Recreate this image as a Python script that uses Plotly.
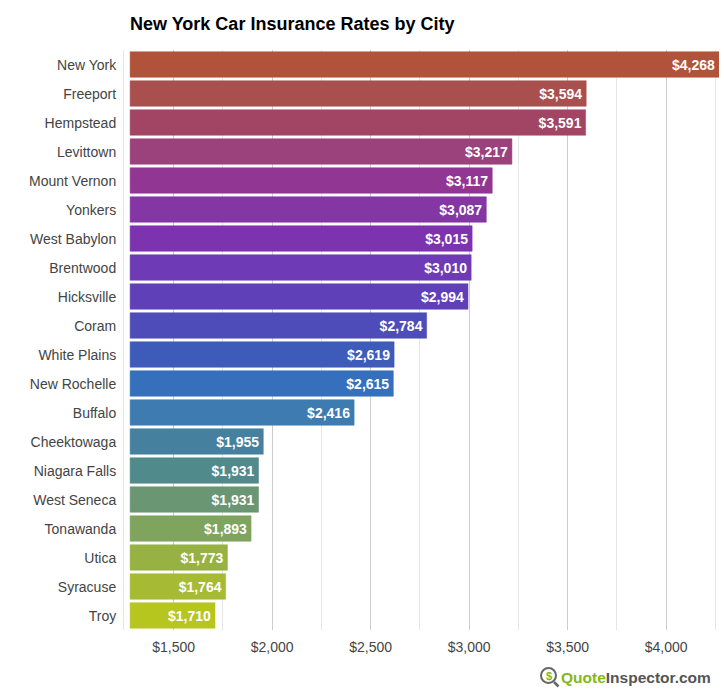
"""New York car insurance rates by city, horizontal bar chart."""
import plotly.graph_objects as go

cities = [
    "New York", "Freeport", "Hempstead", "Levittown", "Mount Vernon",
    "Yonkers", "West Babylon", "Brentwood", "Hicksville", "Coram",
    "White Plains", "New Rochelle", "Buffalo", "Cheektowaga", "Niagara Falls",
    "West Seneca", "Tonawanda", "Utica", "Syracuse", "Troy",
]
rates = [
    4268, 3594, 3591, 3217, 3117, 3087, 3015, 3010, 2994, 2784,
    2619, 2615, 2416, 1955, 1931, 1931, 1893, 1773, 1764, 1710,
]
bar_colors = [
    "#b0533a", "#a94f4e", "#a24565", "#9b417c", "#923693",
    "#8536a5", "#7d32b0", "#6f3ab5", "#6040b8", "#4e4cb8",
    "#3e5bb9", "#3670bc", "#3e7bb0", "#45809f", "#508a8b",
    "#6a9674", "#7ea45d", "#97b242", "#a6ba33", "#b7c61f",
]
tick_values = [1500, 2000, 2500, 3000, 3500, 4000]
tick_labels = ["$1,500", "$2,000", "$2,500", "$3,000", "$3,500", "$4,000"]

BASE_VALUE = 1279
FONT = "Liberation Sans, Arial, sans-serif"
WIDTH = 724
HEIGHT = 700
MARGIN = {"l": 124, "r": 5, "t": 50, "b": 70, "pad": 0}


def _px(x, y):
    """Convert page pixels to paper coordinates."""
    plot_w = WIDTH - MARGIN["l"] - MARGIN["r"]
    plot_h = HEIGHT - MARGIN["t"] - MARGIN["b"]
    return (x - MARGIN["l"]) / plot_w, 1 - (y - MARGIN["t"]) / plot_h


def _translucent(color, alpha):
    """Turn a hex colour into an rgba string."""
    r, g, b = (int(color[i:i + 2], 16) for i in (1, 3, 5))
    return f"rgba({r},{g},{b},{alpha})"


fig = go.Figure()

fig.add_trace(
    go.Bar(
        y=cities,
        x=[r - BASE_VALUE for r in rates],
        base=BASE_VALUE,
        orientation="h",
        marker={
            "color": bar_colors,
            "line": {"color": [_translucent(c, 0.5) for c in bar_colors], "width": 1},
        },
        # hair space keeps the labels off the bar end
        text=[f"${r:,}\u200a" for r in rates],
        textposition="inside",
        insidetextanchor="end",
        textangle=0,
        constraintext="none",
        textfont={"family": FONT, "size": 14, "color": "#ffffff", "weight": "bold"},
        hoverinfo="skip",
    )
)

# Logo, bottom right
cx0, cy0 = _px(541, 668)
cx1, cy1 = _px(556, 683)
fig.add_shape(
    type="circle", xref="paper", yref="paper",
    x0=cx0, x1=cx1, y0=cy0, y1=cy1,
    line={"color": "#666666", "width": 2},
)
hx0, hy0 = _px(554, 682)
hx1, hy1 = _px(558.5, 686.5)
fig.add_shape(
    type="line", xref="paper", yref="paper",
    x0=hx0, x1=hx1, y0=hy0, y1=hy1,
    line={"color": "#666666", "width": 2.5},
)
dx, dy = _px(548.5, 675.5)
fig.add_annotation(
    x=dx, y=dy, xref="paper", yref="paper", showarrow=False,
    xanchor="center", yanchor="middle",
    text="$", font={"family": FONT, "size": 11, "color": "#83b81a", "weight": "bold"},
)
lx, ly = _px(713, 677)
fig.add_annotation(
    x=lx, y=ly, xref="paper", yref="paper", showarrow=False,
    xanchor="right", yanchor="middle",
    text='<span style="color:#83b81a">Quote</span>Inspector.com',
    font={"family": FONT, "size": 15.5, "color": "#555555", "weight": "bold"},
)

fig.update_layout(
    width=WIDTH,
    height=HEIGHT,
    margin=MARGIN,
    template="plotly_white",
    paper_bgcolor="#ffffff",
    plot_bgcolor="#ffffff",
    showlegend=False,
    bargap=0.12,
    font={"family": FONT, "size": 14, "color": "#444444"},
    title={
        "text": "<b>New York Car Insurance Rates by City</b>",
        "x": 130 / WIDTH,
        "xanchor": "left",
        "y": 1 - 24 / HEIGHT,
        "yanchor": "middle",
        "font": {"family": FONT, "size": 18, "color": "#000000"},
    },
    xaxis={
        "range": [1248, 4268],
        "tickvals": tick_values,
        "ticktext": tick_labels,
        "showgrid": True,
        "gridcolor": "#cccccc",
        "gridwidth": 1,
        "zeroline": False,
        "showline": False,
        "ticks": "outside",
        "ticklen": 4,
        "tickcolor": "#ffffff",
        "minor": {"dtick": 250, "tick0": 1250, "showgrid": True, "gridcolor": "#e6e6e6", "gridwidth": 1},
    },
    yaxis={
        "categoryorder": "array",
        "categoryarray": cities,
        "autorange": "reversed",
        "showgrid": False,
        "zeroline": False,
        "showline": True,
        "linecolor": "#e6e6e6",
        "linewidth": 1,
        "ticks": "outside",
        "ticklen": 4,
        "tickcolor": "#ffffff",
        "ticklabelshift": -1,
    },
)

fig.write_html(
    "out.html",
    config={"displayModeBar": False},
    post_script="document.body.style.margin='0';",
)
